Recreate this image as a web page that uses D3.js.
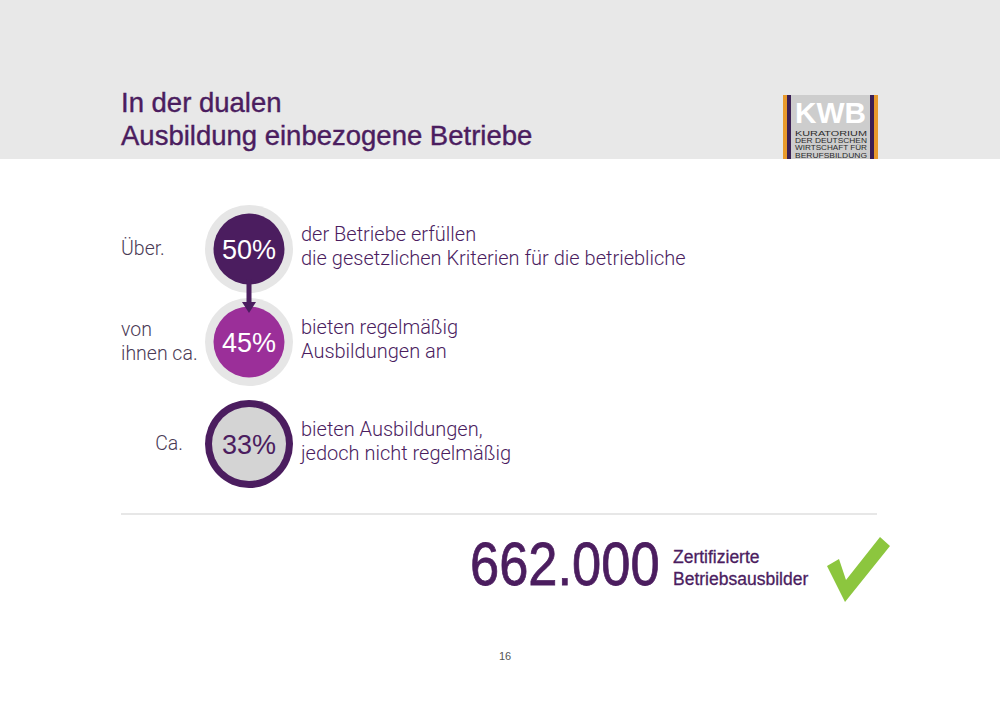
<!DOCTYPE html>
<html>
<head>
<meta charset="utf-8">
<style>
  body { margin: 0; background: #fff; }
  text { font-family: "Liberation Sans", Arial, sans-serif; }
</style>
</head>
<body>
<svg id="container" width="1000" height="704"></svg>
<script src="https://cdn.jsdelivr.net/npm/d3@7/dist/d3.min.js"></script>
<script>
// data
let titleLines = ["In der dualen", "Ausbildung einbezogene Betriebe"]
let rows = ["a", "b", "c"]
let values = [50, 45, 33]
let prefixes = [["Über."], ["von", "ihnen ca."], ["Ca."]]
let descriptions = [
  ["der Betriebe erfüllen", "die gesetzlichen Kriterien für die betriebliche"],
  ["bieten regelmäßig", "Ausbildungen an"],
  ["bieten Ausbildungen,", "jedoch nicht regelmäßig"]
]
let totalValue = 662000
let totalLabel = ["Zertifizierte", "Betriebsausbilder"]
let pageNumber = "16"
let logoLines = ["KURATORIUM", "DER DEUTSCHEN", "WIRTSCHAFT FÜR", "BERUFSBILDUNG"]

let purple = "#4b1d5f"
let magenta = "#9b2f99"
let svg = d3.select("#container")

// header band
svg.append("rect").attr("x", 0).attr("y", 0).attr("width", 1000).attr("height", 159).attr("fill", "#e8e8e8")

svg.append("g").selectAll("text")
  .data(titleLines)
  .enter().append("text")
  .attr("x", 121)
  .attr("y", (d, i) => 112 + i * 33)
  .attr("fill", purple)
  .attr("stroke", purple)
  .attr("stroke-width", 0.4)
  .attr("font-size", 27.5)
  .text(d => d)

// logo
let logo = svg.append("g").attr("transform", "translate(783,95)")
logo.append("rect").attr("width", 95).attr("height", 64).attr("fill", "#cdcdcd")
logo.append("rect").attr("x", 0).attr("width", 4).attr("height", 64).attr("fill", "#e89a2c")
logo.append("rect").attr("x", 4).attr("width", 4).attr("height", 64).attr("fill", "#3b1f55")
logo.append("rect").attr("x", 87).attr("width", 4).attr("height", 64).attr("fill", "#3b1f55")
logo.append("rect").attr("x", 91).attr("width", 4).attr("height", 64).attr("fill", "#e89a2c")
logo.append("text").attr("x", 12).attr("y", 28)
  .attr("fill", "#fff").attr("font-size", 29).attr("font-weight", "bold")
  .attr("textLength", 71).attr("lengthAdjust", "spacingAndGlyphs").text("KWB")
logo.selectAll(".ll")
  .data(logoLines)
  .enter().append("text")
  .attr("x", 12)
  .attr("y", (d, i) => 41 + i * 7.2)
  .attr("fill", "#2b2b2b")
  .attr("font-size", 7)
  .attr("textLength", 72)
  .attr("lengthAdjust", "spacingAndGlyphs")
  .text(d => d)

// rows (spacing read off the picture, not even)
let yc = { a: 249, b: 342, c: 444 }
let y = d3.scaleOrdinal().domain(rows).range(rows.map(r => yc[r]))
let rowY = i => y(rows[i])
let cx = 249

let g = svg.append("g").selectAll("g")
  .data(values)
  .enter().append("g")
  .attr("transform", (d, i) => `translate(${cx},${rowY(i)})`)

g.append("circle")
  .attr("r", 44)
  .attr("fill", (d, i) => i == 2 ? purple : "#e6e6e6")
g.append("circle")
  .attr("r", (d, i) => i == 2 ? 37 : 35.5)
  .attr("fill", (d, i) => [purple, magenta, "#d4d4d4"][i])

// connector between first two circles
svg.append("line").attr("x1", cx).attr("x2", cx)
  .attr("y1", rowY(0) + 30).attr("y2", rowY(1) - 36)
  .attr("stroke", purple).attr("stroke-width", 5)
svg.append("path")
  .attr("d", d3.line()([[cx - 7, rowY(1) - 40], [cx + 7, rowY(1) - 40], [cx, rowY(1) - 29]]))
  .attr("fill", purple)

g.append("text")
  .attr("text-anchor", "middle")
  .attr("y", 10)
  .attr("font-size", 27)
  .attr("fill", (d, i) => i == 2 ? purple : "#fff")
  .text(d => d + "%")

// side texts
g.each(function (d, i) {
  let sel = d3.select(this)
  let lines = prefixes[i]
  let anchorX = i == 2 ? -66 : -128
  sel.selectAll(".pre")
    .data(lines)
    .enter().append("text")
    .attr("x", anchorX)
    .attr("y", (t, j) => 6 + (j - (lines.length - 1) / 2) * 24)
    .attr("font-size", 19.5)
    .attr("fill", "#4a3a55")
    .attr("text-anchor", i == 2 ? "end" : "start")
    .style("font-family", "Roboto, sans-serif")
    .style("font-weight", 300)
    .text(t => t)
  let desc = descriptions[i]
  sel.selectAll(".desc")
    .data(desc)
    .enter().append("text")
    .attr("x", 52)
    .attr("y", (t, j) => -8 + j * 24)
    .attr("font-size", 20)
    .attr("fill", purple)
    .style("font-family", "Roboto, sans-serif")
    .style("font-weight", 300)
    .text(t => t)
})

// separator
svg.append("line").attr("x1", 121).attr("x2", 877).attr("y1", 514).attr("y2", 514)
  .attr("stroke", "#cfcfcf").attr("stroke-width", 1.2)

// total
let fmt = d3.formatLocale({ decimal: ",", thousands: ".", grouping: [3], currency: ["", "€"] }).format(",")
svg.append("text").attr("transform", "translate(470,585) scale(0.86,1)")
  .attr("font-size", 61).attr("fill", purple)
  .attr("stroke", purple).attr("stroke-width", 0.8)
  .text(fmt(totalValue))
svg.selectAll(".tl")
  .data(totalLabel)
  .enter().append("text")
  .attr("x", 673)
  .attr("y", (d, i) => 563 + i * 22)
  .attr("font-size", 17.5)
  .attr("fill", purple)
  .attr("stroke", purple).attr("stroke-width", 0.3)
  .text(d => d)

// check mark
svg.append("path")
  .attr("d", d3.line()([[827, 566], [839, 559], [846, 580], [880, 537], [890, 546], [845, 602]]))
  .attr("fill", "#8cc63e")

svg.append("text").attr("x", 505).attr("y", 660).attr("text-anchor", "middle")
  .attr("font-size", 11).attr("fill", "#555").text(pageNumber)
</script>
</body>
</html>
